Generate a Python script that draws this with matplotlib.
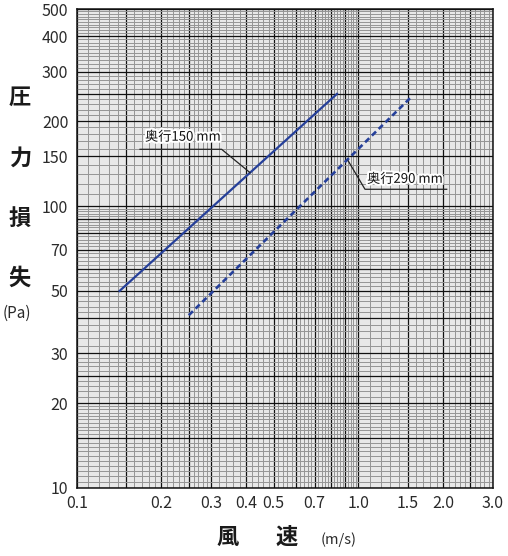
import numpy as np
import matplotlib
matplotlib.use('Agg')
import matplotlib.pyplot as plt
import matplotlib.patheffects as pe
from matplotlib.ticker import FixedLocator

plt.rcParams['font.family'] = ['Noto Sans CJK JP', 'DejaVu Sans']

# Data: pressure loss vs air velocity
v150 = [0.142, 0.84]
p150 = [50, 250]
v290 = [0.25, 1.55]
p290 = [41, 245]

# Grid / tick values (log paper)
x_major = [0.1, 0.15, 0.2, 0.25, 0.3, 0.4, 0.5, 0.6, 0.7, 0.8, 0.9, 1.0, 1.5, 2.0, 2.5, 3.0]
x_labeled = [0.1, 0.2, 0.3, 0.4, 0.5, 0.7, 1.0, 1.5, 2.0, 3.0]
x_labels = ['0.1', '0.2', '0.3', '0.4', '0.5', '0.7', '1.0', '1.5', '2.0', '3.0']
x_minor = np.round(np.concatenate([np.arange(0.1, 0.3, 0.01),
                                   np.arange(0.3, 1.0, 0.02),
                                   np.arange(1.0, 3.0, 0.1)]), 3)

y_major = [10, 15, 20, 25, 30, 40, 50, 60, 70, 80, 90, 100, 150, 200, 250, 300, 400, 500]
y_labeled = [10, 20, 30, 50, 70, 100, 150, 200, 300, 400, 500]
y_minor = np.round(np.concatenate([np.arange(10, 20, 0.5),
                                   np.arange(20, 30, 1),
                                   np.arange(30, 100, 2),
                                   np.arange(100, 500, 10)]), 2)

W, H = 508, 556
fig = plt.figure(figsize=(W / 100, H / 100), dpi=100)
ax = fig.add_axes([76.7 / W, (H - 488) / H, 416 / W, 479 / H])
ax.set_facecolor('#e8e8e8')
ax.set_xscale('log')
ax.set_yscale('log')
ax.set_xlim(0.1, 3.0)
ax.set_ylim(10, 500)

ax.xaxis.set_major_locator(FixedLocator(x_major))
ax.xaxis.set_minor_locator(FixedLocator(x_minor))
ax.yaxis.set_major_locator(FixedLocator(y_major))
ax.yaxis.set_minor_locator(FixedLocator(y_minor))
ax.set_xticklabels([x_labels[x_labeled.index(v)] if v in x_labeled else '' for v in x_major])
ax.set_yticklabels([str(v) if v in y_labeled else '' for v in y_major])
ax.xaxis.set_minor_formatter(plt.NullFormatter())
ax.yaxis.set_minor_formatter(plt.NullFormatter())
ax.tick_params(which='both', length=0, labelsize=11.5, colors='#2a2a2a')
ax.tick_params(axis='x', pad=5)
ax.tick_params(axis='y', pad=6)

ax.set_axisbelow(True)
ax.grid(which='minor', color='#959595', linewidth=0.7)
ax.grid(which='major', color='#111111', linewidth=0.9)
for s in ax.spines.values():
    s.set_color('#111111')
    s.set_linewidth(1.1)

blue = '#26409a'
ax.plot(v150, p150, color=blue, lw=1.6, zorder=3)
ax.plot(v290, p290, color=blue, lw=1.9, ls=(0, (2.2, 1.4)), zorder=3)

# leader lines and labels
stroke = [pe.withStroke(linewidth=3, foreground='white')]
ax.plot([0.1678, 0.327, 0.4125], [159, 159, 131.4], color='#222222', lw=0.9, zorder=4)
ax.text(0.1748, 175.5, '奥行150 mm', fontsize=9.5, va='center', ha='left',
        color='#111111', path_effects=stroke, zorder=5)
ax.plot([0.921, 1.056, 2.06], [144.5, 114.7, 114.7], color='#222222', lw=0.9, zorder=4)
ax.text(1.074, 124.4, '奥行290 mm', fontsize=9.5, va='center', ha='left',
        color='#111111', path_effects=stroke, zorder=5)

# axis titles
for ch, yy in zip(['圧', '力', '損', '失'], [97, 158, 218, 278]):
    fig.text(20 / W, 1 - yy / H, ch, fontsize=16, fontweight='bold',
             ha='center', va='center', color='#1a1a1a')
fig.text(17 / W, 1 - 313 / H, '(Pa)', fontsize=11, ha='center', va='center', color='#2a2a2a')

fig.text(228 / W, 1 - 537 / H, '風', fontsize=16, fontweight='bold',
         ha='center', va='center', color='#1a1a1a')
fig.text(287 / W, 1 - 537 / H, '速', fontsize=16, fontweight='bold',
         ha='center', va='center', color='#1a1a1a')
fig.text(339 / W, 1 - 540 / H, '(m/s)', fontsize=10.5, ha='center', va='center', color='#2a2a2a')

fig.savefig('out.png', dpi=100)
